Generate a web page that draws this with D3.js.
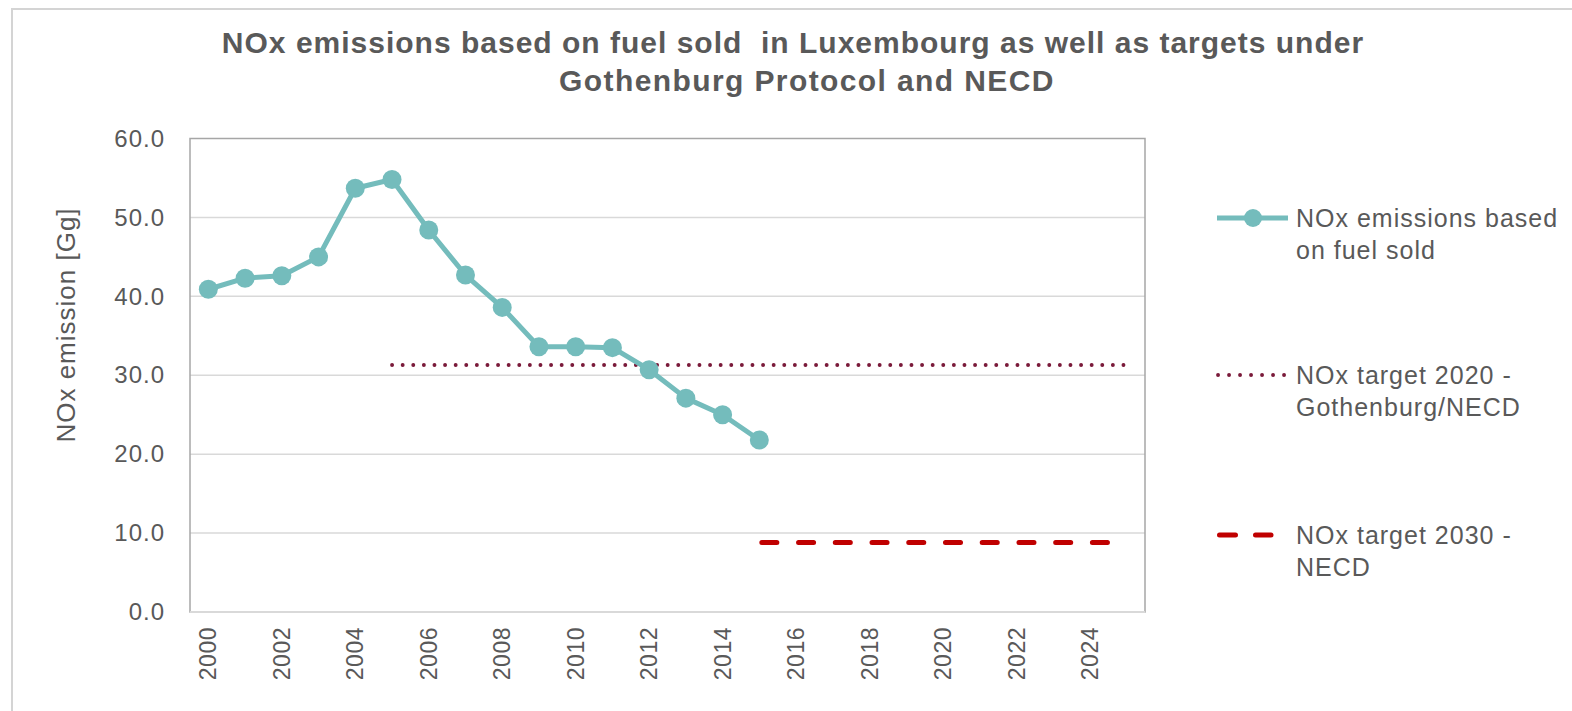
<!DOCTYPE html>
<html>
<head>
<meta charset="utf-8">
<script src="https://cdn.jsdelivr.net/npm/d3@7"></script>
<style>
  body { margin: 0; background: #fff; }
  svg { display: block; font-family: "Liberation Sans", Arial, sans-serif; }
</style>
</head>
<body>
<svg id="chart" width="1572" height="711"></svg>
<script>
// chart data
const years = d3.range(2000, 2026).map(String);
const emissionYears = ['2000','2001','2002','2003','2004','2005','2006','2007','2008','2009','2010','2011','2012','2013','2014','2015'];
const emissionValues = [40.9, 42.3, 42.6, 45.0, 53.7, 54.8, 48.4, 42.7, 38.6, 33.6, 33.6, 33.5, 30.7, 27.1, 25.0, 21.8];
const target2020Years = ['2005','2006','2007','2008','2009','2010','2011','2012','2013','2014','2015','2016','2017','2018','2019','2020','2021','2022','2023','2024','2025'];
const target2020Value = 31.3;
const target2030Years = ['2015','2016','2017','2018','2019','2020','2021','2022','2023','2024','2025'];
const target2030Value = 8.8;
const yTicks = [0, 10, 20, 30, 40, 50, 60];
const xLabelYears = years.filter((y, i) => i % 2 === 0);
const legendLabels = [
  ['NOx emissions based', 'on fuel sold'],
  ['NOx target 2020 -', 'Gothenburg/NECD'],
  ['NOx target 2030 -', 'NECD']
];

const svg = d3.select('#chart');
const txt = '#595959';

// outer chart frame
svg.append('rect')
   .attr('x', 12).attr('y', 9)
   .attr('width', 1600).attr('height', 720)
   .attr('fill', 'none')
   .attr('stroke', '#d4d4d4')
   .attr('stroke-width', 2);

// title
const title = svg.append('text')
   .attr('text-anchor', 'middle')
   .attr('font-size', '30px')
   .attr('font-weight', 'bold')
   .attr('letter-spacing', '1px')
   .attr('fill', txt);
title.append('tspan').attr('x', 793).attr('y', 53).attr('xml:space', 'preserve')
   .text('NOx emissions based on fuel sold  in Luxembourg as well as targets under');
title.append('tspan').attr('x', 807).attr('y', 91)
   .attr('letter-spacing', '1.4px')
   .text('Gothenburg Protocol and NECD');

const plot = { left: 190, right: 1145, top: 138.5, bottom: 612 };

const x = d3.scaleBand().domain(years).range([plot.left, plot.right]);
const y = d3.scaleLinear().domain([0, 60]).range([plot.bottom, plot.top]);
const cx = d => x(d) + x.bandwidth() / 2;

// gridlines
svg.append('g')
   .selectAll('line')
   .data(yTicks.filter(t => t > 0 && t < 60))
   .join('line')
   .attr('x1', plot.left).attr('x2', plot.right)
   .attr('y1', d => y(d)).attr('y2', d => y(d))
   .attr('stroke', '#d9d9d9')
   .attr('stroke-width', 1.5);

// plot area border
svg.append('rect')
   .attr('x', plot.left).attr('y', plot.top)
   .attr('width', plot.right - plot.left)
   .attr('height', plot.bottom - plot.top)
   .attr('fill', 'none')
   .attr('stroke', '#a6a6a6')
   .attr('stroke-width', 1.5);

svg.append('line')
   .attr('x1', plot.left).attr('x2', plot.right)
   .attr('y1', plot.bottom).attr('y2', plot.bottom)
   .attr('stroke', '#d9d9d9')
   .attr('stroke-width', 2);

// y axis labels
const yAxis = svg.append('g')
   .attr('transform', `translate(${plot.left},0)`)
   .call(d3.axisLeft(y).tickValues(yTicks).tickFormat(d3.format('.1f')).tickSize(0).tickPadding(25));
yAxis.select('.domain').remove();
yAxis.selectAll('text')
   .attr('font-size', '24px')
   .attr('letter-spacing', '1px')
   .attr('font-family', '"Liberation Sans", Arial, sans-serif')
   .attr('fill', txt);

// x axis labels, every other year
const xAxis = svg.append('g')
   .attr('transform', `translate(0,${plot.bottom})`)
   .call(d3.axisBottom(x).tickValues(xLabelYears).tickSize(0));
xAxis.select('.domain').remove();
xAxis.selectAll('text')
   .attr('font-size', '23px')
   .attr('letter-spacing', '0.5px')
   .attr('font-family', '"Liberation Sans", Arial, sans-serif')
   .attr('fill', txt)
   .attr('transform', 'rotate(-90)')
   .attr('text-anchor', 'end')
   .attr('x', -15)
   .attr('y', 0)
   .attr('dy', '0.35em');

// y axis title
svg.append('text')
   .attr('transform', 'translate(75,325) rotate(-90)')
   .attr('text-anchor', 'middle')
   .attr('font-size', '26px')
   .attr('letter-spacing', '1px')
   .attr('fill', txt)
   .text('NOx emission [Gg]');

// target lines
const line = d3.line().x(d => cx(d[0])).y(d => y(d[1]));

svg.append('path')
   .attr('d', line(target2020Years.map(yr => [yr, target2020Value])))
   .attr('fill', 'none')
   .attr('stroke', '#7a1a3a')
   .attr('stroke-width', 3.8)
   .attr('stroke-linecap', 'round')
   .attr('stroke-dasharray', '0.1 10.5');

svg.append('path')
   .attr('d', line(target2030Years.map(yr => [yr, target2030Value])))
   .attr('fill', 'none')
   .attr('stroke', '#c00000')
   .attr('stroke-width', 5)
   .attr('stroke-linecap', 'round')
   .attr('stroke-dasharray', `${x.bandwidth() - 21.7} 21.7`)
   .attr('stroke-dashoffset', -0.8)
   .attr('transform', 'translate(1.7,0)');

// emissions series
const teal = '#74bcbc';
const emData = emissionYears.map((yr, i) => [yr, emissionValues[i]]);
svg.append('path')
   .attr('d', line(emData))
   .attr('fill', 'none')
   .attr('stroke', teal)
   .attr('stroke-width', 5)
   .attr('stroke-linejoin', 'round');

svg.append('g')
   .selectAll('circle')
   .data(emData)
   .join('circle')
   .attr('cx', d => cx(d[0]))
   .attr('cy', d => y(d[1]))
   .attr('r', 9.5)
   .attr('fill', teal);

// legend
const legendY = [218, 375, 535];
const legend = svg.append('g');
legendLabels.forEach((lines, i) => {
  const g = legend.append('g').attr('transform', `translate(0,${legendY[i]})`);
  if (i === 0) {
    g.append('line').attr('x1', 1217).attr('x2', 1288).attr('y1', 0).attr('y2', 0)
     .attr('stroke', teal).attr('stroke-width', 5);
    g.append('circle').attr('cx', 1253).attr('cy', 0).attr('r', 9).attr('fill', teal);
  } else if (i === 1) {
    g.append('line').attr('x1', 1218).attr('x2', 1286).attr('y1', 0).attr('y2', 0)
     .attr('stroke', '#7a1a3a').attr('stroke-width', 3.8)
     .attr('stroke-linecap', 'round').attr('stroke-dasharray', '0.1 10.9');
  } else {
    g.append('line').attr('x1', 1219.5).attr('x2', 1271).attr('y1', 0).attr('y2', 0)
     .attr('stroke', '#c00000').attr('stroke-width', 5)
     .attr('stroke-linecap', 'round').attr('stroke-dasharray', '16 20');
  }
  const t = g.append('text')
     .attr('font-size', '25px')
     .attr('letter-spacing', '1px')
     .attr('fill', txt);
  lines.forEach((l, j) => {
    t.append('tspan').attr('x', 1296).attr('y', j * 32).attr('dy', '0.35em').text(l);
  });
});
</script>
</body>
</html>
